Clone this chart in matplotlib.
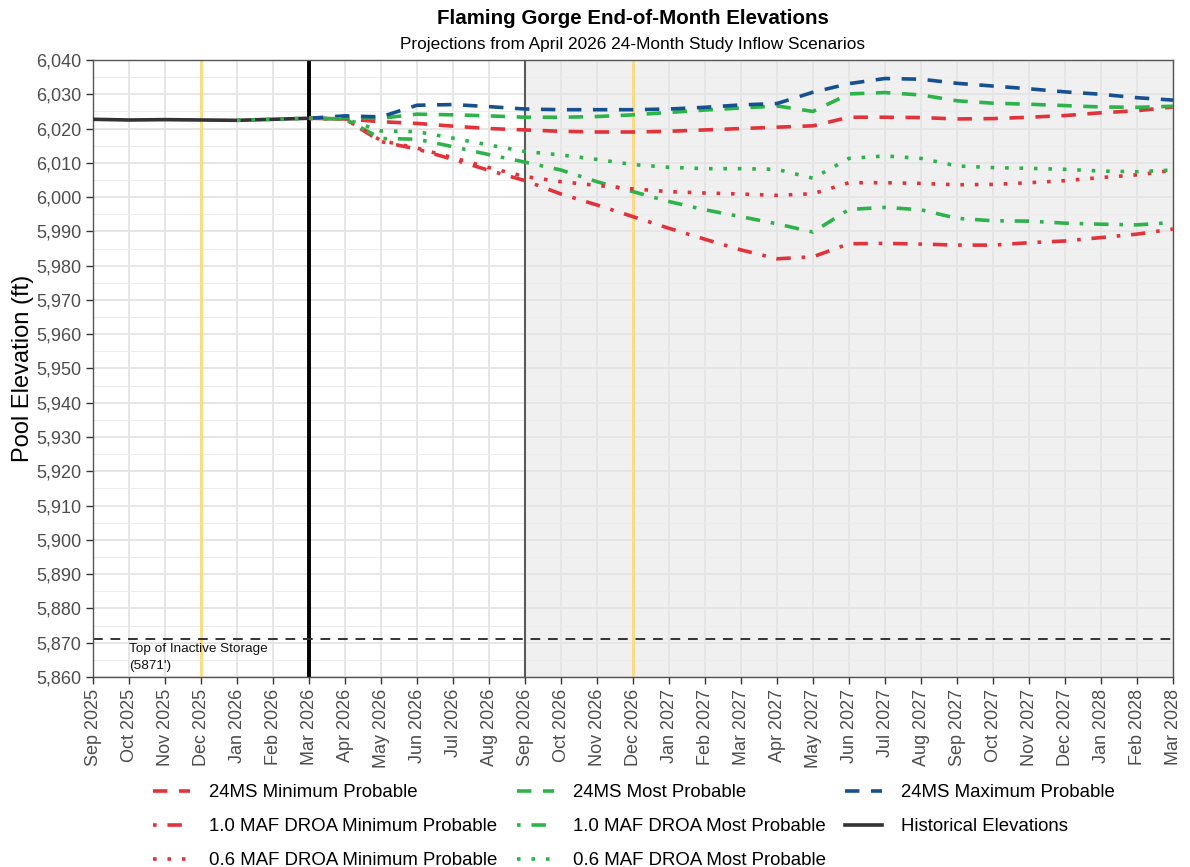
import matplotlib
matplotlib.use("Agg")
import matplotlib.pyplot as plt
from matplotlib.lines import Line2D
from matplotlib.ticker import MultipleLocator, FuncFormatter

plt.rcParams['font.family'] = ['Liberation Sans', 'DejaVu Sans']

# ---------------- data ----------------
months = ["Sep 2025", "Oct 2025", "Nov 2025", "Dec 2025", "Jan 2026", "Feb 2026",
          "Mar 2026", "Apr 2026", "May 2026", "Jun 2026", "Jul 2026", "Aug 2026",
          "Sep 2026", "Oct 2026", "Nov 2026", "Dec 2026", "Jan 2027", "Feb 2027",
          "Mar 2027", "Apr 2027", "May 2027", "Jun 2027", "Jul 2027", "Aug 2027",
          "Sep 2027", "Oct 2027", "Nov 2027", "Dec 2027", "Jan 2028", "Feb 2028",
          "Mar 2028"]

historical = [6022.7, 6022.5, 6022.6, 6022.5, 6022.4, 6022.7, 6023.0]

# projections start Mar 2026
min_24ms = [6023.0, 6022.8, 6022.0, 6021.5, 6020.7, 6020.0, 6019.6, 6019.2, 6019.0,
            6019.0, 6019.2, 6019.6, 6020.0, 6020.4, 6020.8, 6023.3, 6023.3, 6023.2,
            6022.8, 6022.9, 6023.3, 6023.8, 6024.6, 6025.2, 6026.3]
most_24ms = [6023.0, 6023.2, 6023.0, 6024.2, 6024.0, 6023.7, 6023.3, 6023.3, 6023.5,
             6024.0, 6024.7, 6025.4, 6026.0, 6026.6, 6025.0, 6030.1, 6030.5, 6029.8,
             6028.1, 6027.4, 6027.1, 6026.7, 6026.3, 6026.2, 6026.5]
max_24ms = [6023.0, 6023.7, 6023.4, 6026.8, 6027.0, 6026.4, 6025.7, 6025.5, 6025.5,
            6025.5, 6025.7, 6026.2, 6026.9, 6027.3, 6030.6, 6033.1, 6034.6, 6034.4,
            6033.2, 6032.4, 6031.6, 6030.7, 6030.0, 6029.0, 6028.3]
min_droa10 = [6023.0, 6022.8, 6016.2, 6014.0, 6011.0, 6007.8, 6004.8, 6000.9, 5997.7,
              5994.3, 5990.9, 5987.7, 5984.6, 5982.0, 5982.6, 5986.4, 5986.5, 5986.3,
              5986.0, 5986.0, 5986.7, 5987.2, 5988.2, 5989.2, 5990.7]
most_droa10 = [6023.0, 6022.8, 6017.1, 6016.9, 6014.7, 6012.4, 6010.2, 6007.9, 6004.5,
               6001.6, 5998.7, 5996.3, 5994.3, 5992.2, 5989.8, 5996.4, 5997.0, 5996.3,
               5993.8, 5993.1, 5993.0, 5992.4, 5992.1, 5991.9, 5992.6]
min_droa06 = [6023.0, 6022.8, 6016.5, 6014.3, 6011.5, 6008.6, 6006.0, 6004.5, 6003.4,
              6002.4, 6001.6, 6001.2, 6000.9, 6000.5, 6001.0, 6004.2, 6004.2, 6004.0,
              6003.6, 6003.7, 6004.2, 6004.8, 6005.7, 6006.5, 6007.8]
# starts Jan 2026
most_droa06 = [6022.4, 6022.7, 6023.0, 6022.8, 6019.3, 6019.1, 6017.2, 6015.2, 6013.3,
               6012.3, 6011.0, 6009.5, 6008.7, 6008.3, 6008.3, 6008.1, 6005.5, 6011.3,
               6012.0, 6011.3, 6009.1, 6008.6, 6008.4, 6008.1, 6007.6, 6007.4, 6007.9]

inactive_storage = 5871

RED = "#e2323a"
GREEN = "#2cb34a"
BLUE = "#17508f"
HIST = "#333333"

# ---------------- figure ----------------
fig = plt.figure(figsize=(11.9, 8.67), dpi=100)
ax = fig.add_axes([93/1190, 1 - 677/867, (1173-93)/1190, (677-60)/867])

x_all = list(range(len(months)))
i_mar26 = months.index("Mar 2026")
i_jan26 = months.index("Jan 2026")
i_sep26 = months.index("Sep 2026")

ax.set_xlim(0, len(months) - 1)
ax.set_ylim(5860, 6040)

# shaded future region
ax.axvspan(i_sep26, len(months) - 1, color="#f0f0f0", zorder=0.2, lw=0)

ax.set_axisbelow(True)
ax.yaxis.set_major_locator(MultipleLocator(10))
ax.yaxis.set_minor_locator(MultipleLocator(5))
ax.set_xticks(x_all)
ax.set_xticklabels(months, rotation=90)
ax.grid(which="major", color="#e4e4e4", lw=1.3)
ax.yaxis.grid(which="minor", color="#ececec", lw=0.7)
ax.yaxis.set_major_formatter(FuncFormatter(lambda v, p: f"{int(v):,}"))

# reference lines
for m in ["Dec 2025", "Dec 2026"]:
    ax.axvline(months.index(m), color="#fbdb85", lw=2.2, zorder=1)
ax.axvline(i_sep26, color="#5a5a5a", lw=1.5, zorder=1)
ax.axvline(i_mar26, color="#000000", lw=2.8, zorder=1)
ax.axhline(inactive_storage, color="#333333", lw=1.4, ls=(0, (5, 4)), zorder=1)
ax.text(1, inactive_storage - 1.1, "Top of Inactive Storage\n(5871')", fontsize=9.7,
        ha="left", va="top", linespacing=1.5, color="#111111")

LW = 2.6
DASH = (0, (4, 3.2))
DOTDASH = (0, (1, 3, 4, 3))
DOT = (0, (1, 3))

xp = x_all[i_mar26:]
xj = x_all[i_jan26:]

ax.plot(x_all[:len(historical)], historical, color=HIST, lw=LW, zorder=3)
ax.plot(xp, min_24ms, color=RED, lw=LW, ls=DASH, zorder=3)
ax.plot(xp, most_24ms, color=GREEN, lw=LW, ls=DASH, zorder=3)
ax.plot(xp, max_24ms, color=BLUE, lw=LW, ls=DASH, zorder=3)
ax.plot(xp, min_droa10, color=RED, lw=LW, ls=DOTDASH, zorder=3)
ax.plot(xp, most_droa10, color=GREEN, lw=LW, ls=DOTDASH, zorder=3)
ax.plot(xp, min_droa06, color=RED, lw=LW, ls=DOT, zorder=3)
ax.plot(xj, most_droa06, color=GREEN, lw=LW, ls=DOT, zorder=3)

for s in ax.spines.values():
    s.set_color("#555555")
    s.set_linewidth(1.0)
ax.tick_params(axis="both", which="major", labelsize=13, colors="#4d4d4d",
               length=5, width=1.0, color="#333333")
ax.tick_params(axis="y", which="minor", length=0)
ax.set_ylabel("Pool Elevation (ft)", fontsize=17, color="#000000", labelpad=1.5)

fig.text(633/1190, 1 - 19/867, "Flaming Gorge End-of-Month Elevations",
         ha="center", va="center", fontsize=14.8, fontweight="bold")
fig.text(633/1190, 1 - 45/867, "Projections from April 2026 24-Month Study Inflow Scenarios",
         ha="center", va="center", fontsize=12.4)

# legend (column-wise order)
handles = [
    Line2D([], [], color=RED, lw=LW, ls=DASH),
    Line2D([], [], color=RED, lw=LW, ls=DOTDASH),
    Line2D([], [], color=RED, lw=LW, ls=DOT),
    Line2D([], [], color=GREEN, lw=LW, ls=DASH),
    Line2D([], [], color=GREEN, lw=LW, ls=DOTDASH),
    Line2D([], [], color=GREEN, lw=LW, ls=DOT),
    Line2D([], [], color=BLUE, lw=LW, ls=DASH),
    Line2D([], [], color=HIST, lw=LW),
]
labels = ["24MS Minimum Probable", "1.0 MAF DROA Minimum Probable",
          "0.6 MAF DROA Minimum Probable", "24MS Most Probable",
          "1.0 MAF DROA Most Probable", "0.6 MAF DROA Most Probable",
          "24MS Maximum Probable", "Historical Elevations"]
fig.legend(handles, labels, ncol=3, loc="upper center",
           bbox_to_anchor=(634/1190, 1 - 784/867), frameon=False, fontsize=13.4,
           handlelength=2.0, handletextpad=1.0, columnspacing=1.05,
           labelspacing=0.92, borderaxespad=0, borderpad=0)

fig.savefig("out.png", dpi=100)
